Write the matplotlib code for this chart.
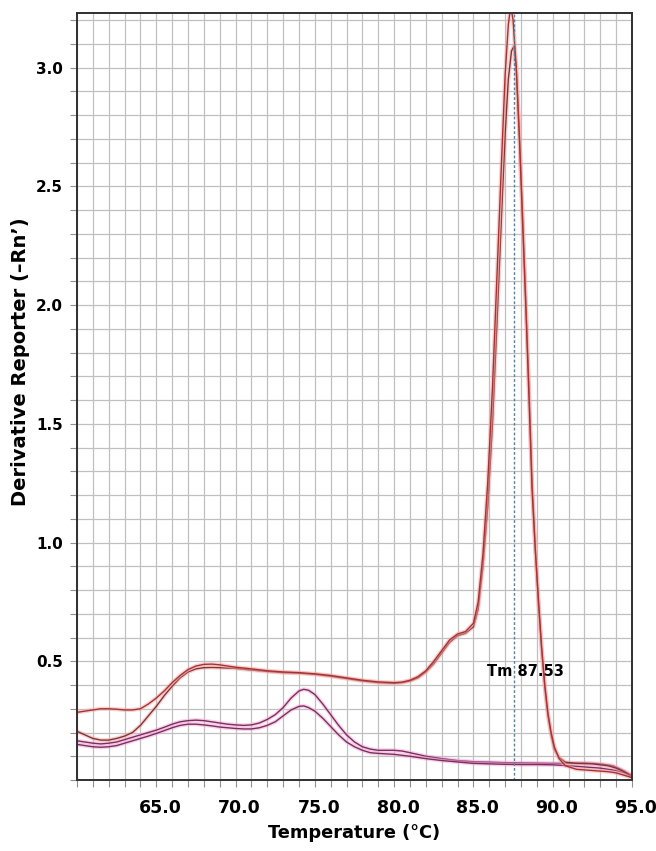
import numpy as np
import matplotlib
matplotlib.use('Agg')
import matplotlib.pyplot as plt
import matplotlib.transforms as mtransforms

# melt curve A (taller peak, starts high)
temp_a = [60.0, 60.5, 61.0, 61.5, 62.0, 62.5, 63.0, 63.5, 64.0, 64.5, 65.0, 65.5, 66.0, 66.5,
          67.0, 67.5, 68.0, 68.5, 69.0, 69.5, 70.0, 71.0, 72.0, 73.0, 74.0, 75.0, 76.0, 77.0,
          78.0, 79.0, 80.0, 80.5, 81.0, 81.5, 82.0, 82.5, 83.0, 83.5, 84.0, 84.5, 85.0, 85.3,
          85.6, 85.9, 86.2, 86.5, 86.8, 87.0, 87.2, 87.35, 87.5, 87.7, 87.9, 88.1, 88.3, 88.5,
          88.7, 88.9, 89.1, 89.3, 89.5, 89.7, 89.9, 90.1, 90.4, 90.8, 91.5, 92.5, 93.5, 94.0,
          94.5, 95.0]
deriv_a = [0.285, 0.29, 0.295, 0.30, 0.30, 0.298, 0.295, 0.295, 0.30, 0.32, 0.345, 0.375, 0.41, 0.44,
           0.465, 0.48, 0.487, 0.488, 0.485, 0.48, 0.475, 0.468, 0.46, 0.455, 0.452, 0.447, 0.44, 0.43,
           0.42, 0.413, 0.41, 0.412, 0.42, 0.435, 0.46, 0.50, 0.545, 0.59, 0.615, 0.625, 0.66, 0.75,
           0.95, 1.25, 1.65, 2.15, 2.65, 2.97, 3.18, 3.26, 3.2, 3.0, 2.7, 2.35, 2.0, 1.62,
           1.22, 0.97, 0.76, 0.56, 0.40, 0.28, 0.2, 0.14, 0.09, 0.06, 0.045, 0.04, 0.035, 0.03,
           0.02, 0.01]

# melt curve B (second replicate)
temp_b = [60.0, 60.5, 61.0, 61.5, 62.0, 62.5, 63.0, 63.5, 64.0, 64.5, 65.0, 65.5, 66.0, 66.5,
          67.0, 67.5, 68.0, 68.5, 69.0, 70.0, 71.0, 72.0, 73.0, 74.0, 75.0, 76.0, 77.0, 78.0,
          79.0, 80.0, 80.5, 81.0, 81.5, 82.0, 82.5, 83.0, 83.5, 84.0, 84.5, 85.0, 85.3, 85.6,
          85.9, 86.2, 86.5, 86.8, 87.0, 87.2, 87.4, 87.55, 87.7, 87.9, 88.1, 88.3, 88.5, 88.7,
          88.9, 89.1, 89.3, 89.5, 89.7, 89.9, 90.1, 90.4, 90.8, 91.5, 92.5, 93.5, 94.0, 94.5, 95.0]
deriv_b = [0.205, 0.19, 0.175, 0.168, 0.168, 0.175, 0.185, 0.2, 0.23, 0.27, 0.31, 0.355, 0.395, 0.43,
           0.455, 0.468, 0.473, 0.474, 0.473, 0.47, 0.463, 0.457, 0.452, 0.45, 0.445, 0.437, 0.427, 0.417,
           0.41, 0.407, 0.41, 0.417, 0.43, 0.455, 0.49, 0.535, 0.58, 0.608, 0.618, 0.645, 0.72, 0.9,
           1.15, 1.5, 1.95, 2.42, 2.72, 2.95, 3.07, 3.09, 3.0, 2.72, 2.38, 2.02, 1.66, 1.25,
           0.98, 0.74, 0.55, 0.39, 0.27, 0.19, 0.13, 0.095, 0.075, 0.07, 0.068, 0.06, 0.05, 0.035, 0.015]

# low curves (no specific product)
temp_c = [60.0, 60.5, 61.0, 61.5, 62.0, 62.5, 63.0, 63.5, 64.0, 64.5, 65.0, 65.5, 66.0, 66.5,
          67.0, 67.5, 68.0, 68.5, 69.0, 69.5, 70.0, 70.5, 71.0, 71.5, 72.0, 72.5, 73.0, 73.5,
          74.0, 74.3, 74.6, 75.0, 75.5, 76.0, 76.5, 77.0, 77.5, 78.0, 78.5, 79.0, 79.5, 80.0,
          80.5, 81.0, 82.0, 83.0, 84.0, 85.0, 86.0, 87.0, 88.0, 89.0, 90.0, 91.0, 92.0, 93.0,
          93.8, 94.3, 95.0]
deriv_c = [0.165, 0.16, 0.155, 0.152, 0.155, 0.16, 0.17, 0.18, 0.19, 0.2, 0.21, 0.222, 0.235, 0.245,
           0.25, 0.252, 0.25, 0.245, 0.24, 0.235, 0.232, 0.23, 0.232, 0.24, 0.255, 0.275, 0.305, 0.345,
           0.375, 0.382, 0.378, 0.36, 0.32, 0.275, 0.23, 0.19, 0.16, 0.14, 0.13, 0.125, 0.125, 0.125,
           0.122, 0.115, 0.1, 0.09, 0.082, 0.077, 0.075, 0.073, 0.072, 0.071, 0.07, 0.07, 0.072, 0.068,
           0.06, 0.045, 0.02]

temp_d = [60.0, 60.5, 61.0, 61.5, 62.0, 62.5, 63.0, 63.5, 64.0, 64.5, 65.0, 65.5, 66.0, 66.5,
          67.0, 67.5, 68.0, 68.5, 69.0, 69.5, 70.0, 70.5, 71.0, 71.5, 72.0, 72.5, 73.0, 73.5,
          74.0, 74.3, 74.6, 75.0, 75.5, 76.0, 76.5, 77.0, 77.5, 78.0, 78.5, 79.0, 79.5, 80.0,
          81.0, 82.0, 83.0, 84.0, 85.0, 86.0, 87.0, 88.0, 89.0, 90.0, 91.0, 92.0, 93.0, 94.0,
          94.5, 95.0]
deriv_d = [0.15, 0.145, 0.14, 0.138, 0.14, 0.145, 0.155, 0.165, 0.175, 0.185, 0.196, 0.208, 0.22, 0.23,
           0.235, 0.235, 0.232, 0.228, 0.223, 0.22, 0.217, 0.215, 0.215, 0.22, 0.23, 0.245, 0.27, 0.295,
           0.31, 0.312, 0.305, 0.29, 0.26, 0.225, 0.19, 0.16, 0.14, 0.125, 0.115, 0.112, 0.11, 0.108,
           0.1, 0.09, 0.082, 0.076, 0.07, 0.068, 0.066, 0.065, 0.065, 0.064, 0.06, 0.055, 0.05, 0.04,
           0.03, 0.015]

tm = 87.53

plt.rcParams['font.family'] = ['DejaVu Sans']
plt.rcParams['font.weight'] = 'bold'

fig = plt.figure(figsize=(6.56, 8.51), dpi=100)
ax = fig.add_axes([77/656, 71/851, 555/656, 767/851])

# grid every 1 degree / 0.1 units
xt = np.arange(60, 96, 1)
yt = np.round(np.arange(0.0, 3.25, 0.1), 1)
ax.set_xticks(xt)
ax.set_yticks(yt)
ax.set_xticklabels([f'{v:.1f}' if (v % 5 == 0 and v > 60) else '' for v in xt])
ax.set_yticklabels([f'{v:.1f}' if (round(v * 10) % 5 == 0 and v > 0) else '' for v in yt])
ax.grid(True, color='#c0c0c0', linewidth=0.9)
ax.set_axisbelow(True)
ax.tick_params(axis='both', direction='out', length=5, width=0.8, color='#909090')
ax.tick_params(axis='x', labelsize=12.5, pad=9)
ax.tick_params(axis='y', labelsize=11, pad=5)
shift = mtransforms.ScaledTranslation(4/100, 0, fig.dpi_scale_trans)
for lab in ax.get_xticklabels():
    lab.set_transform(lab.get_transform() + shift)
for lab in ax.get_xticklabels() + ax.get_yticklabels():
    lab.set_fontweight('bold')

for t, d, halo, col in [(temp_c, deriv_c, '#f4a6d8', '#7a2f5c'),
                        (temp_d, deriv_d, '#f4a6d8', '#7a2f5c'),
                        (temp_b, deriv_b, '#f2a8a8', '#803434'),
                        (temp_a, deriv_a, '#f2a8a8', '#a83232')]:
    ax.plot(t, d, color=halo, lw=3.0, alpha=0.5, solid_capstyle='round')
    ax.plot(t, d, color=col, lw=1.0)

ax.axvline(tm, color='#5f7f95', lw=1.0, ls=(0, (2, 1.5)))
ax.text(85.85, 0.455, 'Tm 87.53', fontsize=10.5, fontweight='bold', va='center', ha='left')

ax.set_xlim(60, 95)
ax.set_ylim(0.0, 3.23)
for s in ax.spines.values():
    s.set_color('#303030')
    s.set_linewidth(1.4)

ax.set_xlabel('Temperature (°C)', fontsize=12.8, fontweight='bold', labelpad=5)
fig.text(21/656, 1 - 362/851, 'Derivative Reporter (–Rn\u2019)', rotation=90, fontsize=14,
         fontweight='bold', ha='center', va='center')

plt.savefig('out.png', dpi=100)
